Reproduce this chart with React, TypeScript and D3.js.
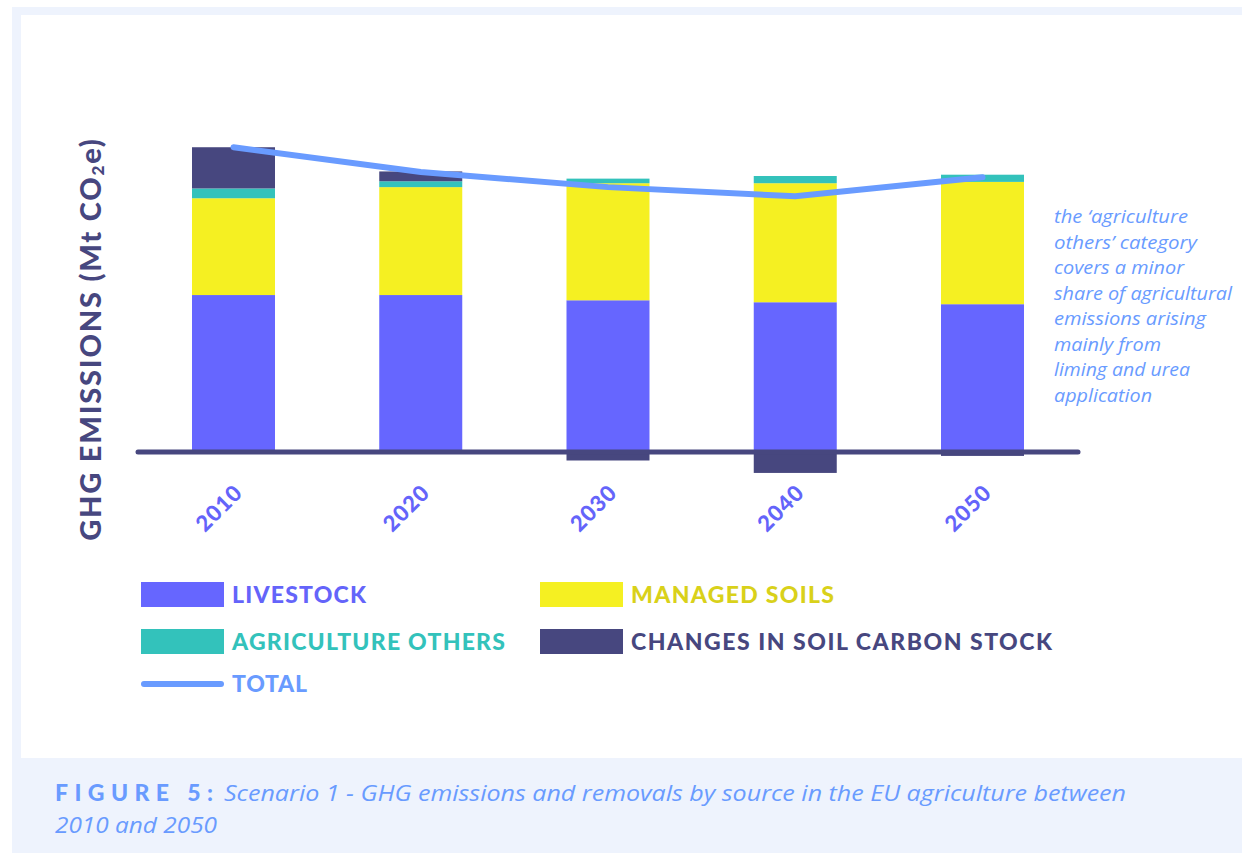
import React from 'react';
import * as d3 from 'd3';

// ---------- data ----------
const years = ['2010', '2020', '2030', '2040', '2050'];
const livestock = [240, 240, 232, 229, 226];
const managedSoils = [148, 165, 179, 182, 187];
const agricultureOthers = [15, 9, 7, 11, 11];
const soilCarbonStock = [63, 15, -13, -32, -6];
const total = [466, 428, 405, 391, 420];

const seriesKeys = ['livestock', 'managedSoils', 'agricultureOthers', 'soilCarbonStock'];
const seriesLabels = ['LIVESTOCK', 'MANAGED SOILS', 'AGRICULTURE OTHERS', 'CHANGES IN SOIL CARBON STOCK'];
const totalLabel = 'TOTAL';
const noteLines = [
  'the \u2018agriculture',
  'others\u2019 category',
  'covers a minor',
  'share of agricultural',
  'emissions arising',
  'mainly from',
  'liming and urea',
  'application',
];
const captionLead = 'FIGURE 5:';
const captionLine1 = 'Scenario 1 - GHG emissions and removals by source in the EU agriculture between';
const captionLine2 = '2010 and 2050';

// ---------- styles ----------
const COLORS: Record<string, string> = {
  livestock: '#6666ff',
  managedSoils: '#f5f022',
  agricultureOthers: '#33c2bb',
  soilCarbonStock: '#47477f',
};
const LEGEND_TEXT: Record<string, string> = {
  livestock: '#6464fa',
  managedSoils: '#d9d11a',
  agricultureOthers: '#33c2bb',
  soilCarbonStock: '#47477f',
};
const TOTAL_COLOR = '#699bff';
const FRAME = '#eef3fd';
const HEAVY = "Lato, 'DejaVu Sans', sans-serif";
const ITALIC = "'Open Sans', 'DejaVu Sans', sans-serif";

const noteWidths = [134, 143, 130, 178, 152, 107, 136, 98];

export default function App() {
  const W = 1242;
  const H = 855;

  const rows = years.map((year, i) => ({
    year,
    livestock: livestock[i],
    managedSoils: managedSoils[i],
    agricultureOthers: agricultureOthers[i],
    soilCarbonStock: soilCarbonStock[i],
    total: total[i],
  }));

  const x = d3.scalePoint<string>().domain(years).range([233.5, 982.5]);
  const barW = 83;
  const k = 0.654;
  const y = d3.scaleLinear().domain([-100, 600]).range([452 + 100 * k, 452 - 600 * k]);

  const stacked = d3
    .stack<any>()
    .keys(seriesKeys)
    .offset(d3.stackOffsetDiverging)(rows);

  const line = d3
    .line<any>()
    .x((d) => x(d.year) as number)
    .y((d) => y(d.total));

  const legendItems = [
    { key: 'livestock', col: 0, row: 0 },
    { key: 'managedSoils', col: 1, row: 0 },
    { key: 'agricultureOthers', col: 0, row: 1 },
    { key: 'soilCarbonStock', col: 1, row: 1 },
  ];
  const legendCols = [{ sx: 141, sw: 83, tx: 232 }, { sx: 540, sw: 83, tx: 631 }];
  const legendRowY = [582, 629];
  const legendTextLen: Record<string, number> = {
    livestock: 134,
    managedSoils: 203,
    agricultureOthers: 273,
    soilCarbonStock: 421,
  };

  return (
    <svg
      width={W}
      height={H}
      viewBox={`0 0 ${W} ${H}`}
      style={{ position: 'absolute', left: 0, top: 0, background: '#fff' }}
    >
      <rect x={0} y={0} width={W} height={H} fill="#fff" />
      <rect x={12} y={7} width={W - 12} height={846} fill={FRAME} />
      <rect x={21} y={15} width={W - 21} height={743} fill="#fff" />

      {/* bars */}
      {stacked.map((s) => (
        <g key={s.key} fill={COLORS[s.key]}>
          {s.map((d, i) => (
            <rect
              key={i}
              x={(x(rows[i].year) as number) - barW / 2}
              y={y(Math.max(d[0], d[1]))}
              width={barW}
              height={Math.abs(y(d[0]) - y(d[1]))}
            />
          ))}
        </g>
      ))}

      {/* baseline */}
      <line x1={138} x2={1078} y1={y(0)} y2={y(0)} stroke="#47477f" strokeWidth={5} strokeLinecap="round" />

      {/* total line */}
      <path d={line(rows) as string} fill="none" stroke={TOTAL_COLOR} strokeWidth={6} strokeLinecap="round" strokeLinejoin="miter" />

      {/* x labels */}
      {years.map((yr) => {
        const px = (x(yr) as number) + 10.5;
        const py = 494;
        return (
          <text
            key={yr}
            x={px}
            y={py}
            transform={`rotate(-45 ${px} ${py})`}
            textAnchor="end"
            fontFamily={HEAVY}
            fontWeight={900}
            fontSize={22}
            letterSpacing={1}
            fill="#6464fa"
          >
            {yr}
          </text>
        );
      })}

      {/* y axis title */}
      <text
        transform="translate(101 339) rotate(-90)"
        textAnchor="middle"
        fontFamily={HEAVY}
        fontWeight={900}
        fontSize={29}
        letterSpacing={1.8}
        fill="#47477f"
      >
        GHG EMISSIONS (Mt CO<tspan fontSize={17} dy={3}>2</tspan><tspan dy={-3}>e)</tspan>
      </text>

      {/* annotation */}
      {noteLines.map((t, i) => (
        <text
          key={i}
          x={1054}
          y={223 + i * 25.5}
          fontFamily={ITALIC}
          fontStyle="italic"
          fontSize={18.5}
          fill={TOTAL_COLOR}
          textLength={noteWidths[i]}
          lengthAdjust="spacingAndGlyphs"
        >
          {t}
        </text>
      ))}

      {/* legend */}
      {legendItems.map((it) => {
        const c = legendCols[it.col];
        const ry = legendRowY[it.row];
        return (
          <g key={it.key}>
            <rect x={c.sx} y={ry} width={c.sw} height={25} fill={COLORS[it.key]} />
            <text
              x={c.tx}
              y={ry + 21}
              fontFamily={HEAVY}
              fontWeight={900}
              fontSize={23}
              fill={LEGEND_TEXT[it.key]}
              textLength={legendTextLen[it.key]}
              lengthAdjust="spacing"
            >
              {seriesLabels[seriesKeys.indexOf(it.key)]}
            </text>
          </g>
        );
      })}
      <line x1={144} x2={221} y1={684} y2={684} stroke={TOTAL_COLOR} strokeWidth={6} strokeLinecap="round" />
      <text
        x={232}
        y={692}
        fontFamily={HEAVY}
        fontWeight={900}
        fontSize={23}
        fill={TOTAL_COLOR}
        textLength={75}
        lengthAdjust="spacing"
      >
        {totalLabel}
      </text>

      {/* caption */}
      <text
        x={55}
        y={801}
        fontFamily={HEAVY}
        fontWeight={900}
        fontSize={23}
        fill={TOTAL_COLOR}
        textLength={158}
        lengthAdjust="spacing"
      >
        {captionLead}
      </text>
      <text
        x={224}
        y={801}
        fontFamily={ITALIC}
        fontStyle="italic"
        fontSize={22}
        fill={TOTAL_COLOR}
        textLength={902}
        lengthAdjust="spacingAndGlyphs"
      >
        {captionLine1}
      </text>
      <text
        x={55}
        y={833}
        fontFamily={ITALIC}
        fontStyle="italic"
        fontSize={22}
        fill={TOTAL_COLOR}
        textLength={162}
        lengthAdjust="spacingAndGlyphs"
      >
        {captionLine2}
      </text>
    </svg>
  );
}
